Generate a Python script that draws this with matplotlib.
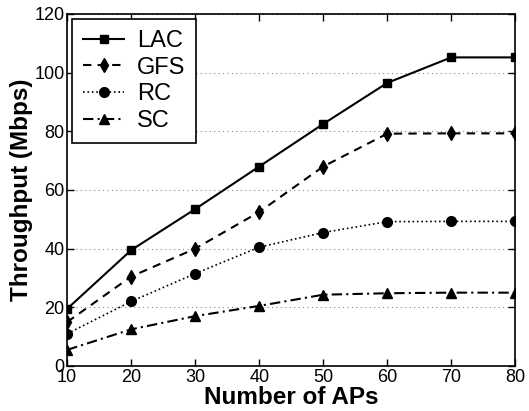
import matplotlib
matplotlib.use('Agg')
from matplotlib import pyplot as plt

plt.rcParams['font.family'] = ['Liberation Sans', 'DejaVu Sans']

num_aps = [10, 20, 30, 40, 50, 60, 70, 80]
lac = [19.5, 39.5, 53.5, 68.0, 82.5, 96.5, 105.2, 105.2]
gfs = [15.0, 30.5, 40.0, 52.5, 68.0, 79.2, 79.3, 79.3]
rc = [11.0, 22.0, 31.5, 40.5, 45.5, 49.2, 49.3, 49.3]
sc = [5.5, 12.5, 17.0, 20.5, 24.3, 24.8, 25.0, 25.0]

fig = plt.figure(figsize=(5.29, 4.11), dpi=100)
axis = fig.add_axes([0.127, 0.1095, 0.847, 0.8565])

axis.plot(num_aps, lac, '-', color='black', marker='s', markersize=6, linewidth=1.5, label='LAC')
axis.plot(num_aps, gfs, '--', color='black', marker='d', markersize=7.5, linewidth=1.5, label='GFS', dashes=[4, 3])
axis.plot(num_aps, rc, ':', color='black', marker='o', markersize=7, linewidth=1.2, label='RC')
axis.plot(num_aps, sc, '-.', color='black', marker='^', markersize=7, linewidth=1.5, label='SC', dashes=[5, 2, 1, 2])

axis.set_xlim(10, 80)
axis.set_ylim(0, 120)
axis.set_xticks(num_aps)
axis.set_yticks([0, 20, 40, 60, 80, 100, 120])
axis.yaxis.grid(True, linestyle=(0, (1, 3)), color='#888888', linewidth=0.8)
axis.tick_params(direction='in', top=True, right=True, labelsize=13, length=5, width=1, pad=2)
for spine in axis.spines.values():
    spine.set_linewidth(1.2)

axis.set_xlabel('Number of APs', fontsize=17.5, fontweight='bold', labelpad=0)
axis.set_ylabel('Throughput (Mbps)', fontsize=17.5, fontweight='bold', labelpad=1)

leg = axis.legend(loc='upper left', fontsize=17, fancybox=False, framealpha=1, edgecolor='black',
                  handlelength=1.75, borderaxespad=0.22, borderpad=0.45, labelspacing=0.2,
                  handletextpad=0.55)
leg.get_frame().set_linewidth(1.2)

plt.savefig('out.png', dpi=100)
